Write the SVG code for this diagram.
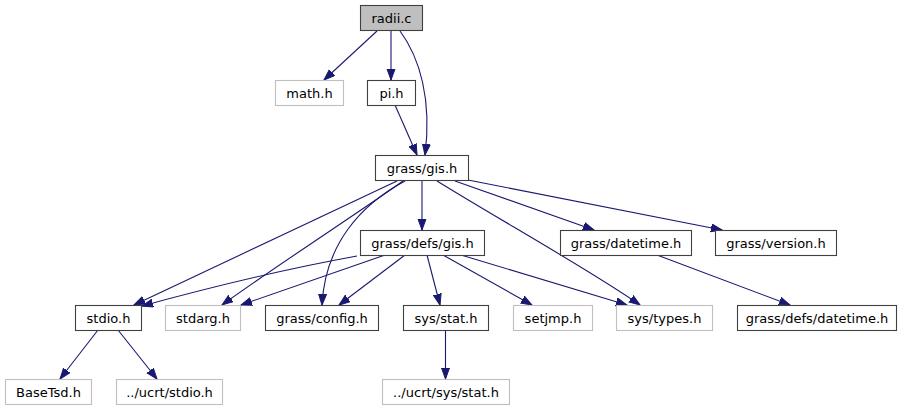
<svg xmlns="http://www.w3.org/2000/svg" width="907" height="411" viewBox="0 0 907 411">
<style>
.n rect{fill:#ffffff;stroke:#404040;stroke-width:1.1}
.g rect{fill:#ffffff;stroke:#bfbfbf;stroke-width:1.1}
.r rect{fill:#bfbfbf;stroke:#404040;stroke-width:1.1}
text{font-family:"DejaVu Sans",sans-serif;font-size:13px;fill:#000;text-anchor:middle}
.e path{fill:none;stroke:#191970;stroke-width:1.1;marker-end:url(#a)}
</style>
<defs>
<marker id="a" markerUnits="userSpaceOnUse" markerWidth="13" markerHeight="10" refX="11" refY="4.5" orient="auto">
<path d="M0,0.5 L11,4.5 L0,8.5 z" fill="#191970" stroke="#191970" stroke-width="1"/>
</marker>
</defs>
<rect width="907" height="411" fill="#ffffff"/>
<g class="e" id="edges">
<path d="M377,31 L324,80"/>
<path d="M391,31 L391,80"/>
<path d="M400,31 C420,58 432,100 425,155"/>
<path d="M395,105 L417,155"/>
<path d="M397,181 L134,305"/>
<path d="M403,181 C370,205 270,270 222,305"/>
<path d="M405,181 C360,205 325,245 322,305"/>
<path d="M422,181 L422,230"/>
<path d="M437,181 C500,220 590,270 640,305"/>
<path d="M455,181 L594,230"/>
<path d="M468,180 L722,230"/>
<path d="M357,256 C280,270 200,290 142,306"/>
<path d="M385,255 L241,305"/>
<path d="M405,255 L339,305"/>
<path d="M427,255 L440,305"/>
<path d="M443,255 L532,305"/>
<path d="M461,255 L627,305"/>
<path d="M657,255 L790,305"/>
<path d="M98,330 L60,379"/>
<path d="M118,330 L157,379"/>
<path d="M445.5,330 L445.5,379"/>
</g>
<g id="node-radii" class="r"><rect x="360.5" y="5.5" width="62" height="25"/><text x="391.5" y="22.5">radii.c</text></g>
<g id="node-math" class="g"><rect x="275.5" y="80.5" width="68" height="25"/><text x="309.5" y="97.5">math.h</text></g>
<g id="node-pi" class="n"><rect x="367.5" y="80.5" width="48" height="25"/><text x="391.5" y="97.5">pi.h</text></g>
<g id="node-gis" class="n"><rect x="375.5" y="155.5" width="93" height="25"/><text x="422" y="172.5">grass/gis.h</text></g>
<g id="node-defsgis" class="n"><rect x="360.5" y="230.5" width="124" height="25"/><text x="422.5" y="247.5">grass/defs/gis.h</text></g>
<g id="node-datetime" class="n"><rect x="560.5" y="230.5" width="131" height="25"/><text x="626" y="247.5">grass/datetime.h</text></g>
<g id="node-version" class="n"><rect x="715.5" y="230.5" width="121" height="25"/><text x="776" y="247.5">grass/version.h</text></g>
<g id="node-stdio" class="n"><rect x="75.5" y="305.5" width="66" height="25"/><text x="108.5" y="322.5">stdio.h</text></g>
<g id="node-stdarg" class="g"><rect x="165.5" y="305.5" width="75" height="25"/><text x="203" y="322.5">stdarg.h</text></g>
<g id="node-config" class="n"><rect x="265.5" y="305.5" width="113" height="25"/><text x="322" y="322.5">grass/config.h</text></g>
<g id="node-sysstat" class="n"><rect x="403.5" y="305.5" width="85" height="25"/><text x="446" y="322.5">sys/stat.h</text></g>
<g id="node-setjmp" class="g"><rect x="513.5" y="305.5" width="79" height="25"/><text x="553" y="322.5">setjmp.h</text></g>
<g id="node-systypes" class="g"><rect x="616.5" y="305.5" width="96" height="25"/><text x="664.5" y="322.5">sys/types.h</text></g>
<g id="node-defsdatetime" class="n"><rect x="737.5" y="305.5" width="159" height="25"/><text x="817" y="322.5">grass/defs/datetime.h</text></g>
<g id="node-basetsd" class="g"><rect x="5.5" y="379.5" width="86" height="25"/><text x="48.5" y="396.5">BaseTsd.h</text></g>
<g id="node-ucrtstdio" class="g"><rect x="116.5" y="379.5" width="106" height="25"/><text x="169.5" y="396.5">../ucrt/stdio.h</text></g>
<g id="node-ucrtsysstat" class="g"><rect x="382.5" y="379.5" width="127" height="25"/><text x="446" y="396.5">../ucrt/sys/stat.h</text></g>
</svg>
